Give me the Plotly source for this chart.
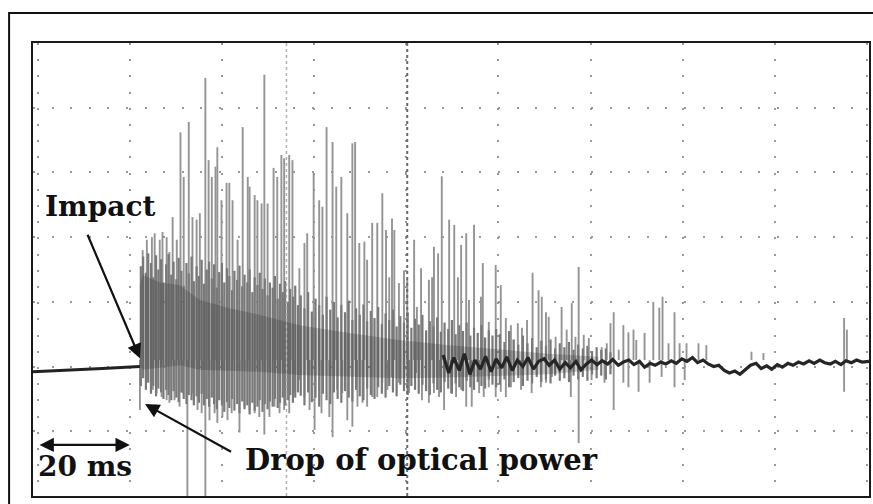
import plotly.graph_objects as go

# ---- time base: ms, one division = 20 ms ; amplitude: divisions ----
# pre-impact flat level
base_t = [-1.0, 6.0, 14.0, 22.2]
base_v = [-0.08, -0.06, -0.03, 0.0]

# large positive excursions (time, peak)
up_t = [22.8, 23.7, 24.8, 25.4, 26.5, 27.1, 28.0, 28.6, 29.3, 30.2, 31.0, 31.7, 32.8, 33.6,
        34.5, 35.2, 36.4, 37.1, 37.8, 38.6, 39.0, 39.9, 41.0, 41.6, 42.3, 43.4, 44.5, 45.6,
        46.0, 47.1, 47.7, 48.6, 49.2, 49.9, 51.2, 52.0, 52.9, 53.5, 54.6, 55.3, 56.8, 57.9,
        58.5, 59.9, 61.1, 61.8, 62.7, 64.0, 64.8, 65.9, 67.2, 68.3, 68.9, 69.8, 70.9, 71.5,
        72.6, 73.7, 74.8, 75.6, 76.3, 76.9, 77.4, 78.4, 79.5, 80.2, 81.7, 82.3, 83.2, 84.9,
        85.6, 86.0, 86.9, 87.7, 89.3, 90.4, 91.2, 91.9, 93.0, 93.6, 94.7, 96.2, 96.6, 97.9,
        99.4, 100.5, 101.6, 102.7, 103.3, 104.2, 105.1, 106.2, 107.4, 108.7, 109.4, 110.3,
        110.9, 112.4, 113.7, 114.8, 115.9, 116.7, 117.4, 118.5, 119.6, 122.4, 123.5, 124.3,
        125.0, 126.1, 127.1, 128.2, 129.3, 129.9, 131.7, 133.6, 134.9, 135.6, 136.9, 138.2,
        139.3, 140.8, 143.4, 145.1, 154.9, 157.5, 175.0, 175.6]
up_v = [1.80, 1.96, 2.00, 2.06, 1.96, 2.08, 2.00, 1.77, 2.31, 1.96, 3.62, 2.93, 3.78, 2.31,
        2.27, 2.37, 4.46, 3.19, 2.93, 3.09, 3.39, 2.57, 2.84, 2.84, 2.57, 1.96, 3.70, 2.93,
        2.78, 2.65, 2.57, 2.52, 4.51, 2.52, 3.07, 2.93, 3.27, 3.22, 3.27, 3.19, 1.52, 1.91,
        2.06, 2.99, 2.57, 2.47, 3.70, 3.47, 2.78, 2.93, 2.37, 3.45, 3.47, 1.91, 1.93, 1.65,
        2.22, 2.22, 2.68, 2.11, 1.38, 2.29, 2.11, 1.29, 1.49, 1.34, 1.96, 0.92, 1.52, 1.34,
        1.38, 1.85, 1.75, 2.94, 2.27, 2.19, 1.38, 1.88, 2.06, 1.03, 2.19, 1.08, 1.60, 0.69,
        1.57, 1.26, 0.75, 0.64, 0.41, 0.67, 0.60, 0.72, 1.45, 1.18, 1.08, 0.84,
        0.77, 0.46, 0.92, 0.57, 0.98, 0.46, 1.54, 0.49, 0.44, 0.30, 0.36, 0.67,
        0.84, 0.26, 0.64, 0.53, 0.57, 0.41, 0.52, 1.00, 0.91, 1.08, 0.36, 0.84,
        0.36, 0.36, 0.36, 0.33, 0.23, 0.21, 0.75, 0.57]

# large negative excursions (time, trough)
dn_t = [22.2, 23.9, 25.0, 25.8, 26.9, 28.0, 28.6, 29.7, 30.8, 31.5, 32.5, 33.6, 34.7, 35.6,
        36.4, 37.3, 38.4, 39.0, 40.1, 41.2, 42.1, 43.8, 44.9, 46.0, 47.1, 48.1, 49.2, 50.3,
        51.4, 52.5, 53.5, 54.6, 55.7, 56.8, 57.9, 59.0, 60.1, 61.6, 63.3, 64.0, 65.0, 66.1,
        67.2, 68.3, 69.4, 70.5, 71.5, 72.6, 73.7, 74.8, 75.9, 76.9, 78.4, 79.5, 80.6, 82.1,
        83.4, 84.9, 86.0, 87.1, 88.2, 89.7, 90.8, 91.9, 93.0, 94.2, 95.8, 96.8, 97.9, 99.4,
        100.5, 101.6, 102.7, 104.9, 107.2, 109.2, 110.3, 111.6, 115.7, 117.4, 120.2, 123.0,
        125.0, 127.1, 128.2, 130.4, 132.8, 135.4, 138.2, 140.4, 175.0]
dn_v = [-0.67, -0.21, -0.36, -0.41, -0.47, -0.52, -0.56, -0.52, -0.62, -0.41, -2.10, -0.41,
        -0.67, -0.72, -2.10, -0.83, -0.72, -0.87, -0.78, -0.83, -0.72, -1.02, -0.62, -0.67,
        -0.72, -0.78, -1.05, -0.78, -0.62, -0.72, -0.67, -0.72, -0.41, -0.21, -0.47, -0.67,
        -0.98, -0.72, -0.78, -1.09, -0.36, -0.41, -0.83, -0.93, -0.62, -0.56, -0.62, -0.47,
        -0.47, -0.25, -0.36, -0.16, -0.25, -0.16, -0.41, -0.10, -0.52, -0.56, -0.41, -0.47,
        -0.67, -0.41, -0.47, -0.36, -0.62, -0.62, -0.41, -0.47, -0.32, -0.47, -0.39, -0.47,
        -0.32, -0.36, -0.41, -0.32, -0.25, -0.16, -0.47, -1.18, -0.21, -0.25, -0.67, -0.25,
        -0.32, -0.39, -0.25, -0.16, -0.32, -0.21, -0.39]

# individual oscillation cycles of the dense burst (time, max, min)
cyc_t = [22.4, 22.9, 23.5, 24.0, 24.6, 25.1, 25.7, 26.2, 26.8, 27.3,
         27.9, 28.4, 29.0, 29.5, 30.1, 30.6, 31.2, 31.7, 32.3, 32.8,
         33.4, 33.9, 34.5, 35.0, 35.6, 36.1, 36.7, 37.2, 37.8, 38.3,
         38.9, 39.4, 40.0, 40.5, 41.1, 41.6, 42.2, 42.7, 43.3, 43.8,
         44.4, 44.9, 45.5, 46.0, 46.6, 47.1, 47.7, 48.2, 48.8, 49.3,
         49.9, 50.4, 51.0, 51.5, 52.1, 52.6, 53.2, 53.7, 54.3, 54.8,
         55.4, 55.9, 56.5,
         57.1, 57.9, 58.7, 59.5, 60.3, 61.1, 61.9, 62.7, 63.5, 64.3,
         65.1, 65.9, 66.7, 67.5, 68.3, 69.1, 69.9, 70.7, 71.5, 72.3,
         73.1, 73.9, 74.7, 75.5, 76.3, 77.1, 77.9, 78.7, 79.5, 80.3,
         81.1, 81.9, 82.7, 83.5, 84.3, 85.1, 85.9, 86.7, 87.5, 88.3,
         89.1, 89.9, 90.7, 91.5, 92.3, 93.1, 93.9, 94.7, 95.5, 96.3,
         97.1, 97.9, 98.7, 99.5,
         100.3, 101.3, 102.3, 103.3, 104.3, 105.3, 106.3, 107.3, 108.3, 109.3,
         110.3, 111.3, 112.3, 113.3, 114.3, 115.3, 116.3, 117.3, 118.3, 119.3,
         120.3, 121.3, 122.3, 123.3, 124.3]
cyc_hi = [1.55, 1.70, 1.45, 1.75, 1.60, 1.38, 1.72, 1.50, 1.66, 1.30,
          1.58, 1.74, 1.42, 1.62, 1.35, 1.68, 1.48, 1.25, 1.60, 1.44,
          1.70, 1.32, 1.55, 1.40, 1.65, 1.28, 1.50, 1.62, 1.36, 1.58,
          1.22, 1.46, 1.60, 1.30, 1.52, 1.40, 1.18, 1.48, 1.34, 1.56,
          1.24, 1.42, 1.30, 1.50, 1.15, 1.38, 1.26, 1.45, 1.20, 1.36,
          1.10, 1.30, 1.22, 1.40, 1.05, 1.28, 1.15, 1.32, 1.00, 1.20,
          1.08, 1.25, 0.95,
          1.10, 0.90, 1.15, 0.85, 1.05, 0.95, 0.80, 1.08, 0.88, 1.00,
          0.76, 0.95, 0.84, 1.02, 0.72, 0.90, 0.80, 0.96, 0.70, 0.86,
          0.75, 0.92, 0.66, 0.82, 0.72, 0.88, 0.62, 0.78, 0.68, 0.84,
          0.60, 0.74, 0.65, 0.80, 0.56, 0.70, 0.62, 0.76, 0.54, 0.68,
          0.58, 0.72, 0.50, 0.64, 0.55, 0.68, 0.48, 0.60, 0.52, 0.64,
          0.45, 0.56, 0.48, 0.58,
          0.50, 0.38, 0.55, 0.42, 0.34, 0.48, 0.36, 0.44, 0.30, 0.40,
          0.32, 0.42, 0.28, 0.36, 0.30, 0.38, 0.26, 0.34, 0.28, 0.32,
          0.24, 0.30, 0.26, 0.28, 0.22]
cyc_lo = [-0.30, -0.18, -0.36, -0.25, -0.42, -0.30, -0.46, -0.34, -0.40, -0.50,
          -0.36, -0.44, -0.52, -0.38, -0.48, -0.55, -0.40, -0.50, -0.58, -0.44,
          -0.52, -0.60, -0.46, -0.56, -0.42, -0.60, -0.50, -0.62, -0.48, -0.58,
          -0.66, -0.52, -0.60, -0.70, -0.55, -0.64, -0.50, -0.68, -0.58, -0.72,
          -0.54, -0.66, -0.60, -0.74, -0.56, -0.68, -0.62, -0.52, -0.70, -0.58,
          -0.66, -0.54, -0.62, -0.50, -0.64, -0.56, -0.48, -0.60, -0.52, -0.44,
          -0.56, -0.48, -0.40,
          -0.45, -0.60, -0.40, -0.55, -0.48, -0.62, -0.42, -0.52, -0.58, -0.40,
          -0.50, -0.56, -0.38, -0.48, -0.54, -0.36, -0.46, -0.52, -0.34, -0.44,
          -0.50, -0.32, -0.42, -0.48, -0.30, -0.40, -0.46, -0.28, -0.38, -0.44,
          -0.30, -0.36, -0.42, -0.28, -0.38, -0.44, -0.26, -0.36, -0.40, -0.24,
          -0.34, -0.42, -0.26, -0.32, -0.38, -0.22, -0.32, -0.36, -0.24, -0.30,
          -0.34, -0.20, -0.28, -0.32,
          -0.28, -0.20, -0.32, -0.24, -0.18, -0.30, -0.22, -0.26, -0.16, -0.24,
          -0.20, -0.26, -0.14, -0.22, -0.18, -0.24, -0.14, -0.20, -0.16, -0.22,
          -0.12, -0.18, -0.14, -0.20, -0.12]

# darker core of the burst (time, upper, lower)
core_t = [22.2, 22.8, 26.5, 30.8, 35.2, 41.6, 48.1, 56.8, 67.6, 78.4, 89.3, 100.1, 110.9, 121.7]
core_hi = [1.26, 1.42, 1.30, 1.26, 1.03, 0.90, 0.80, 0.64, 0.52, 0.41, 0.33, 0.26, 0.20, 0.15]
core_lo = [0.02, -0.05, -0.02, 0.02, -0.05, -0.06, -0.08, -0.13, -0.15, -0.18, -0.17, -0.15, -0.12, -0.05]

# settled trace after the burst
tail_t = [88.0, 89.2, 90.3, 91.5, 92.6, 93.8, 94.9, 96.1, 97.2, 98.4,
          99.5, 100.7, 101.8, 103.0, 104.1, 105.3, 106.4, 107.6, 108.7, 109.9,
          111.0, 112.2, 113.3, 114.5, 115.6, 116.8, 117.9, 119.1, 120.2, 121.4,
          122.5, 123.7, 124.8, 126.0, 127.1, 128.3, 129.4, 130.6, 131.7, 132.9,
          134.0, 135.2, 136.3, 137.5, 138.6, 139.8, 140.9, 142.1, 143.2, 144.4,
          145.5, 146.7, 147.8, 149.0, 150.1, 151.3, 152.4, 153.6, 154.7, 155.9,
          157.0, 158.2, 159.3, 160.5, 161.6, 162.8, 163.9, 165.1, 166.2, 167.4,
          168.5, 169.7, 170.8, 172.0, 173.1, 174.3, 175.4, 176.6, 177.7, 178.9,
          180.4]
tail_v = [0.18, -0.10, 0.14, -0.06, 0.20, -0.12, 0.10, -0.04, 0.16, -0.08,
          0.12, -0.02, 0.15, -0.06, 0.10, 0.00, 0.14, -0.04, 0.08, 0.12,
          0.02, 0.10, -0.04, 0.06, -0.02, 0.08, -0.05, 0.04, 0.10, 0.03,
          0.09, 0.04, 0.11, 0.02, 0.07, 0.10, 0.03, 0.08, -0.01, 0.05,
          0.02, 0.07, 0.04, 0.09, 0.05, 0.12, 0.08, 0.14, 0.06, 0.10,
          0.04, 0.00, 0.02, -0.06, -0.10, -0.07, -0.12, -0.04, 0.02, 0.05,
          -0.03, 0.01, -0.04, 0.03, -0.01, 0.05, 0.02, 0.07, 0.04, 0.09,
          0.05, 0.10, 0.06, 0.04, 0.08, 0.03, 0.09, 0.06, 0.10, 0.07,
          0.08]

# cursor positions (ms)
cursor_a = 54.0
cursor_b = 80.2

SPIKE_BASE = 0.1
X_RANGE = [-1.0, 180.4]
Y_RANGE = [-2.0, 5.0]


def segments(ts, lows, highs):
    xs, ys = [], []
    for t, lo, hi in zip(ts, lows, highs):
        xs += [t, t, None]
        ys += [lo, hi, None]
    return xs, ys


fig = go.Figure()

sx, sy = segments(up_t, [SPIKE_BASE] * len(up_t), up_v)
fig.add_trace(go.Scatter(x=sx, y=sy, mode="lines", line=dict(width=1.9, color="#949494"),
                         hoverinfo="skip", showlegend=False))
sx, sy = segments(dn_t, dn_v, [SPIKE_BASE] * len(dn_t))
fig.add_trace(go.Scatter(x=sx, y=sy, mode="lines", line=dict(width=1.9, color="#949494"),
                         hoverinfo="skip", showlegend=False))
sx, sy = segments(cyc_t, cyc_lo, cyc_hi)
fig.add_trace(go.Scatter(x=sx, y=sy, mode="lines", line=dict(width=2.2, color="#797979"),
                         hoverinfo="skip", showlegend=False))

# darker core overlay
fig.add_trace(go.Scatter(x=core_t, y=core_hi, mode="lines", line=dict(width=0),
                         hoverinfo="skip", showlegend=False))
fig.add_trace(go.Scatter(x=core_t, y=core_lo, mode="lines", line=dict(width=0),
                         fill="tonexty", fillcolor="rgba(40,40,40,0.24)",
                         hoverinfo="skip", showlegend=False))

fig.add_trace(go.Scatter(x=tail_t, y=tail_v, mode="lines", line=dict(width=3.2, color="#262626"),
                         hoverinfo="skip", showlegend=False))
fig.add_trace(go.Scatter(x=base_t, y=base_v, mode="lines", line=dict(width=3, color="#222"),
                         hoverinfo="skip", showlegend=False))

# cursor lines
fig.add_shape(type="line", x0=cursor_a, x1=cursor_a, y0=Y_RANGE[0], y1=Y_RANGE[1],
              line=dict(color="#b0b0b0", width=1.5, dash="dot"), layer="above")
fig.add_shape(type="line", x0=cursor_b, x1=cursor_b, y0=Y_RANGE[0], y1=Y_RANGE[1],
              line=dict(color="#6a6a6a", width=2, dash="dot"), layer="above")

# outer frame of the figure
fig.add_shape(type="rect", xref="paper", yref="paper", x0=-0.0286, x1=1.02, y0=-0.05, y1=1.066,
              line=dict(color="#111", width=2))

font = dict(family="DejaVu Serif", size=28, color="#111")
fig.add_annotation(x=13.5, y=2.47, text="<b>Impact</b>", showarrow=False, font=font)
fig.add_annotation(x=10.3, y=-1.55, text="<b>20 ms</b>", showarrow=False, font=font)
fig.add_annotation(x=83.2, y=-1.44, text="<b>Drop of optical power</b>", showarrow=False,
                   font=dict(family="DejaVu Serif", size=29, color="#111"))

arrow = dict(showarrow=True, arrowhead=2, arrowsize=1.3, arrowwidth=2.2, arrowcolor="#111",
             axref="x", ayref="y", text="")
fig.add_annotation(x=22.2, y=0.13, ax=10.7, ay=2.06, **arrow)
fig.add_annotation(x=23.3, y=-0.58, ax=42.3, ay=-1.33, **arrow)
fig.add_annotation(x=20.0, y=-1.21, ax=0.1, ay=-1.21, arrowside="end+start", **arrow)

fig.update_xaxes(range=X_RANGE, tick0=0, dtick=20, showgrid=True, gridcolor="#9a9a9a",
                 gridwidth=1.5, griddash="2px,14.2px", zeroline=False, showticklabels=False,
                 ticks="", showline=True, mirror=True, linecolor="#1a1a1a", linewidth=2)
fig.update_yaxes(range=Y_RANGE, tick0=0, dtick=1, showgrid=True, gridcolor="#9a9a9a",
                 gridwidth=1.5, griddash="2px,16.6px", zeroline=False, showticklabels=False,
                 ticks="", showline=True, mirror=True, linecolor="#1a1a1a", linewidth=2)

fig.update_layout(width=873, height=504, margin=dict(l=33, r=2, t=43, b=8),
                  plot_bgcolor="white", paper_bgcolor="white")

fig.write_html("out.html")
